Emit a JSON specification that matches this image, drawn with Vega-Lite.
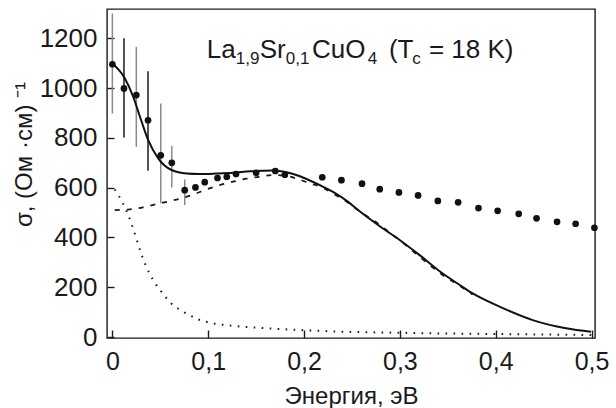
{
  "$schema": "https://vega.github.io/schema/vega-lite/v6.json",
  "width": 488,
  "height": 329,
  "autosize": {"type": "none"},
  "padding": {"left": 107, "top": 9, "right": 21, "bottom": 70},
  "background": "white",
  "config": {
    "view": {"stroke": "#1a1a1a", "strokeWidth": 1.4},
    "font": "Liberation Sans",
    "axis": {
      "domain": false,
      "grid": false,
      "tickColor": "#1a1a1a",
      "tickWidth": 1.4,
      "labelFont": "Liberation Sans",
      "titleFont": "Liberation Sans",
      "labelColor": "#1a1a1a",
      "titleColor": "#1a1a1a",
      "titleFontWeight": "normal"
    }
  },
  "datasets": {
    "exp": [
      {"e": 0.0, "s": 1096}, {"e": 0.0121, "s": 999}, {"e": 0.025, "s": 972}, {"e": 0.0372, "s": 871},
      {"e": 0.0505, "s": 730}, {"e": 0.062, "s": 700}, {"e": 0.0755, "s": 590}, {"e": 0.0867, "s": 601},
      {"e": 0.0964, "s": 622}, {"e": 0.1097, "s": 639}, {"e": 0.1194, "s": 644}, {"e": 0.129, "s": 655},
      {"e": 0.150, "s": 660}, {"e": 0.170, "s": 667}, {"e": 0.180, "s": 652}, {"e": 0.219, "s": 642},
      {"e": 0.239, "s": 630}, {"e": 0.2605, "s": 616}, {"e": 0.279, "s": 594}, {"e": 0.299, "s": 581},
      {"e": 0.319, "s": 569}, {"e": 0.3396, "s": 547}, {"e": 0.3608, "s": 541}, {"e": 0.382, "s": 518},
      {"e": 0.402, "s": 507}, {"e": 0.424, "s": 495}, {"e": 0.4426, "s": 477}, {"e": 0.464, "s": 463},
      {"e": 0.4834, "s": 455}, {"e": 0.503, "s": 439}
    ],
    "err": [
      {"e": 0.0, "lo": 898, "hi": 1300, "set": "a"},
      {"e": 0.0121, "lo": 802, "hi": 1200, "set": "b"},
      {"e": 0.025, "lo": 764, "hi": 1166, "set": "a"},
      {"e": 0.0372, "lo": 668, "hi": 1068, "set": "b"},
      {"e": 0.0505, "lo": 537, "hi": 938, "set": "a"},
      {"e": 0.062, "lo": 601, "hi": 767, "set": "a"},
      {"e": 0.0755, "lo": 530, "hi": 633, "set": "a"}
    ],
    "fit": [
      {"e": 0.0, "s": 1099}, {"e": 0.0131, "s": 1039}, {"e": 0.0218, "s": 965}, {"e": 0.0288, "s": 885},
      {"e": 0.0374, "s": 791}, {"e": 0.0478, "s": 718}, {"e": 0.0618, "s": 671}, {"e": 0.0775, "s": 657},
      {"e": 0.091, "s": 655}, {"e": 0.1088, "s": 657}, {"e": 0.1259, "s": 660}, {"e": 0.1436, "s": 666},
      {"e": 0.1677, "s": 669}, {"e": 0.1817, "s": 662}, {"e": 0.1957, "s": 646}, {"e": 0.2025, "s": 635},
      {"e": 0.216, "s": 611}, {"e": 0.2303, "s": 583}, {"e": 0.246, "s": 543}, {"e": 0.258, "s": 505},
      {"e": 0.279, "s": 445}, {"e": 0.2998, "s": 390}, {"e": 0.3206, "s": 329}, {"e": 0.3415, "s": 264},
      {"e": 0.3624, "s": 209}, {"e": 0.376, "s": 175}, {"e": 0.404, "s": 122}, {"e": 0.4386, "s": 68},
      {"e": 0.4734, "s": 35}, {"e": 0.4995, "s": 21}
    ],
    "lorentz": [
      {"e": 0.0025, "s": 510}, {"e": 0.018, "s": 513}, {"e": 0.032, "s": 521}, {"e": 0.046, "s": 534},
      {"e": 0.060, "s": 546}, {"e": 0.0737, "s": 559}, {"e": 0.0876, "s": 577}, {"e": 0.098, "s": 593},
      {"e": 0.112, "s": 610}, {"e": 0.126, "s": 624}, {"e": 0.14, "s": 636}, {"e": 0.1535, "s": 644},
      {"e": 0.1675, "s": 651}, {"e": 0.181, "s": 648}, {"e": 0.1935, "s": 635}, {"e": 0.2057, "s": 618},
      {"e": 0.2196, "s": 600}, {"e": 0.2303, "s": 576}, {"e": 0.244, "s": 545}, {"e": 0.2546, "s": 515},
      {"e": 0.2773, "s": 455}, {"e": 0.2998, "s": 389}, {"e": 0.3206, "s": 322}, {"e": 0.3415, "s": 258},
      {"e": 0.3659, "s": 197}, {"e": 0.376, "s": 171}
    ],
    "drude": [
      {"e": 0.0025, "s": 593}, {"e": 0.011, "s": 537}, {"e": 0.0198, "s": 457}, {"e": 0.025, "s": 396},
      {"e": 0.030, "s": 336}, {"e": 0.0355, "s": 282}, {"e": 0.0425, "s": 229}, {"e": 0.051, "s": 182},
      {"e": 0.0615, "s": 135}, {"e": 0.0755, "s": 98}, {"e": 0.0895, "s": 71}, {"e": 0.105, "s": 55},
      {"e": 0.126, "s": 45}, {"e": 0.1605, "s": 35}, {"e": 0.1955, "s": 28}, {"e": 0.244, "s": 21},
      {"e": 0.30, "s": 17}, {"e": 0.35, "s": 14}, {"e": 0.40, "s": 12}, {"e": 0.45, "s": 10}, {"e": 0.50, "s": 8}
    ],
    "titleMain": [
      {"seg": "La", "e": 0.0985}, {"seg": "Sr", "e": 0.1538}, {"seg": "CuO", "e": 0.2084},
      {"seg": "(T", "e": 0.2886}, {"seg": "= 18 K)", "e": 0.3303}
    ],
    "titleSub": [
      {"seg": "1,9", "e": 0.1287}, {"seg": "0,1", "e": 0.1810}, {"seg": "4", "e": 0.2665}, {"seg": "c", "e": 0.3128}
    ]
  },
  "layer": [
    {
      "data": {"name": "err"},
      "mark": {"type": "rule", "strokeWidth": 1.5},
      "encoding": {
        "x": {
          "field": "e", "type": "quantitative",
          "scale": {"domain": [-0.0056, 0.5036], "nice": false, "zero": false},
          "axis": {
            "values": [0, 0.1, 0.2, 0.3, 0.4, 0.5],
            "labelExpr": "datum.value == 0 ? '0' : replace(format(datum.value, '.1f'), '.', ',')",
            "tickSize": -8,
            "labelFontSize": 25,
            "labelPadding": 19,
            "title": "Энергия, эВ",
            "titleFontSize": 24,
            "titlePadding": 10
          }
        },
        "y": {
          "field": "lo", "type": "quantitative",
          "scale": {"domain": [-4, 1318], "nice": false, "zero": false},
          "axis": {
            "values": [0, 200, 400, 600, 800, 1000, 1200],
            "format": "d",
            "tickSize": -7,
            "labelFontSize": 26,
            "labelPadding": 17,
            "title": "σ, (Ом ·см) ⁻¹",
            "titleFontSize": 24,
            "titlePadding": 3,
            "titleY": 145
          }
        },
        "y2": {"field": "hi"},
        "color": {"field": "set", "type": "nominal", "scale": {"domain": ["a", "b"], "range": ["#8a8a8a", "#1a1a1a"]}, "legend": null}
      }
    },
    {
      "data": {"name": "drude"},
      "mark": {"type": "line", "color": "#1a1a1a", "strokeWidth": 2, "strokeDash": [1.6, 6.4], "strokeCap": "butt", "interpolate": "monotone"},
      "encoding": {"x": {"field": "e", "type": "quantitative"}, "y": {"field": "s", "type": "quantitative"}}
    },
    {
      "data": {"name": "lorentz"},
      "mark": {"type": "line", "color": "#1a1a1a", "strokeWidth": 1.8, "strokeDash": [5, 7], "interpolate": "monotone"},
      "encoding": {"x": {"field": "e", "type": "quantitative"}, "y": {"field": "s", "type": "quantitative"}}
    },
    {
      "data": {"name": "fit"},
      "mark": {"type": "line", "color": "#111111", "strokeWidth": 2, "interpolate": "monotone"},
      "encoding": {"x": {"field": "e", "type": "quantitative"}, "y": {"field": "s", "type": "quantitative"}}
    },
    {
      "data": {"name": "exp"},
      "mark": {"type": "circle", "color": "#111111", "opacity": 1, "size": 45},
      "encoding": {"x": {"field": "e", "type": "quantitative"}, "y": {"field": "s", "type": "quantitative"}}
    },
    {
      "data": {"name": "titleMain"},
      "mark": {"type": "text", "align": "left", "baseline": "alphabetic", "fontSize": 26, "color": "#1a1a1a", "font": "Liberation Sans"},
      "encoding": {"x": {"field": "e", "type": "quantitative"}, "y": {"datum": 1120}, "text": {"field": "seg"}}
    },
    {
      "data": {"name": "titleSub"},
      "mark": {"type": "text", "align": "left", "baseline": "alphabetic", "fontSize": 17, "color": "#1a1a1a", "font": "Liberation Sans"},
      "encoding": {"x": {"field": "e", "type": "quantitative"}, "y": {"datum": 1096}, "text": {"field": "seg"}}
    }
  ]
}
